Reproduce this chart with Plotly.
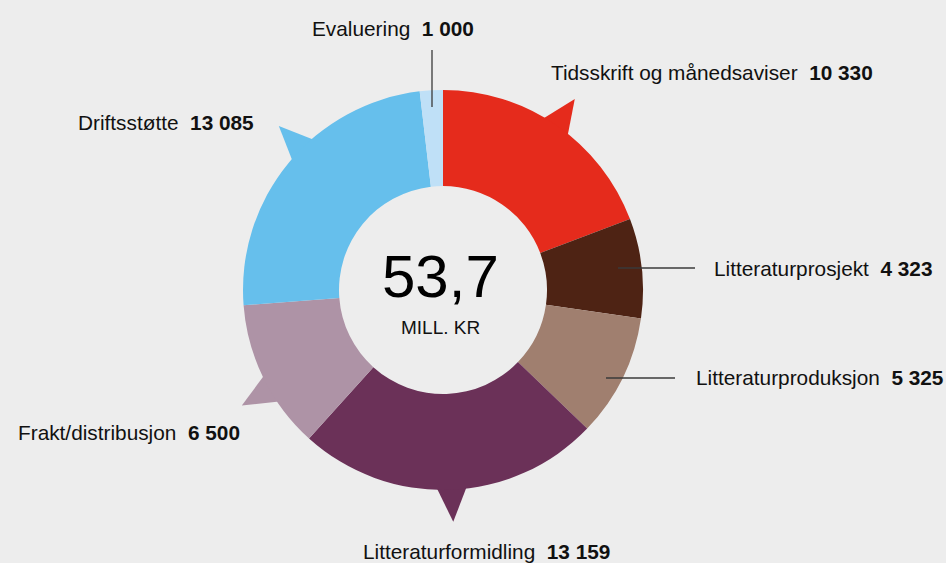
import math
import plotly.graph_objects as go

# ---------------- data ----------------
labels = ["Tidsskrift og månedsaviser", "Litteraturprosjekt", "Litteraturproduksjon",
          "Litteraturformidling", "Frakt/distribusjon", "Driftsstøtte", "Evaluering"]
values = [10330, 4323, 5325, 13159, 6500, 13085, 1000]
value_labels = ["10 330", "4 323", "5 325", "13 159", "6 500", "13 085", "1 000"]
total_label = "53,7"
unit_label = "MILL. KR"

# ---------------- style ----------------
colors = ["#e52b1c", "#4e2314", "#a07f6f", "#6b3158", "#ae93a6", "#66bfec", "#bfe0f7"]
BG = "#ededed"
FONT = "Liberation Sans"
W, H = 946, 563
CX, CY, R = 443, 290, 200
HOLE = 0.52

# pointer (speech-bubble tip) per slice: angular offset from the slice middle, or None
pointer_offset = [0, None, None, -0.5, -3.7, 5.5, None]
POINTER_HALF = 5.0     # degrees
POINTER_TIP = 1.16     # relative to R

# label placement (pixels) per slice
label_pos = [(549, 72, "left"), (712, 268, "left"), (694, 377, "left"),
             (486, 551, "center"), (242, 432, "right"), (256, 122, "right"),
             (393, 28, "center")]
# leader lines (pixels)
leader_lines = [(432, 107, 432, 50), (618, 268, 695, 268), (606, 378, 675, 378)]


def px(x):
    return x / W


def py(y):
    return 1 - y / H


fig = go.Figure()
fig.add_trace(go.Pie(
    labels=labels, values=values, sort=False, direction="clockwise", rotation=0,
    hole=HOLE, marker=dict(colors=colors, line=dict(width=0)),
    textinfo="none", hoverinfo="label+value", showlegend=False,
    domain=dict(x=[px(CX - R), px(CX + R)], y=[py(CY + R), py(CY - R)]),
))

shapes = []
total = sum(values)
cum = 0
for i, v in enumerate(values):
    start = cum / total * 360
    cum += v
    end = cum / total * 360
    mid = (start + end) / 2
    off = pointer_offset[i]
    if off is not None:
        c = mid + off

        def pt(ang, r):
            a = math.radians(ang)
            return px(CX + r * math.sin(a)), py(CY - r * math.cos(a))
        p1 = pt(c - POINTER_HALF, R * 0.97)
        p2 = pt(c, R * POINTER_TIP)
        p3 = pt(c + POINTER_HALF, R * 0.97)
        path = f"M {p1[0]},{p1[1]} L {p2[0]},{p2[1]} L {p3[0]},{p3[1]} Z"
        shapes.append(dict(type="path", path=path, xref="paper", yref="paper",
                           fillcolor=colors[i], line=dict(width=0), layer="below"))

for x0, y0, x1, y1 in leader_lines:
    shapes.append(dict(type="line", xref="paper", yref="paper",
                       x0=px(x0), y0=py(y0), x1=px(x1), y1=py(y1),
                       line=dict(color="#3a3a3a", width=1.3), layer="above"))

annotations = []
for i, lab in enumerate(labels):
    x, y, anchor = label_pos[i]
    annotations.append(dict(
        x=px(x), y=py(y), xref="paper", yref="paper", xanchor=anchor, yanchor="middle",
        text=f"{lab}\u00a0\u00a0<b>{value_labels[i]}</b>", showarrow=False,
        font=dict(family=FONT, size=20.8, color="#111111")))

annotations.append(dict(x=px(440), y=py(276), xref="paper", yref="paper",
                        xanchor="center", yanchor="middle", text=total_label,
                        showarrow=False, font=dict(family=FONT, size=60, color="#000000")))
annotations.append(dict(x=px(440), y=py(327), xref="paper", yref="paper",
                        xanchor="center", yanchor="middle", text=unit_label,
                        showarrow=False, font=dict(family=FONT, size=19, color="#111111")))

fig.update_layout(
    width=W, height=H, margin=dict(l=0, r=0, t=0, b=0),
    paper_bgcolor=BG, plot_bgcolor=BG,
    shapes=shapes, annotations=annotations,
)

fig.write_html("out.html", config={"displayModeBar": False},
               post_script="document.body.style.margin='0';document.body.style.background='#ededed';")
